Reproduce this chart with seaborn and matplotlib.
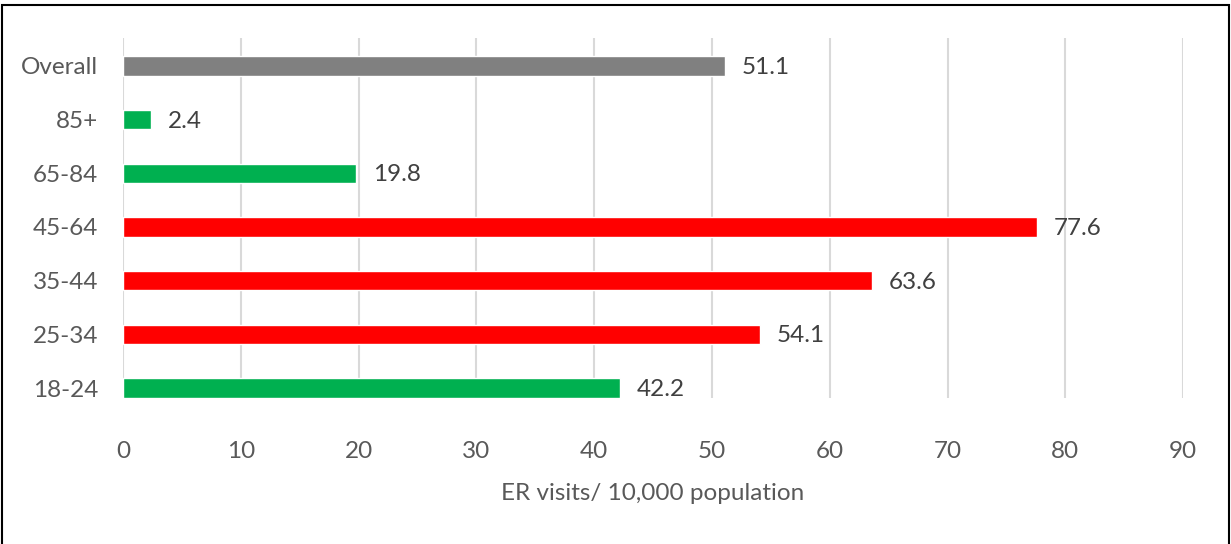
import pandas as pd
import matplotlib
matplotlib.use("Agg")
import matplotlib.pyplot as plt
import seaborn as sns

# chart data
groups = ["Overall", "85+", "65-84", "45-64", "35-44", "25-34", "18-24"]
visits = [51.1, 2.4, 19.8, 77.6, 63.6, 54.1, 42.2]
bar_colors = ["#808080", "#00B050", "#00B050", "#FF0000", "#FF0000", "#FF0000", "#00B050"]

df = pd.DataFrame({"group": groups, "visits": visits})

sns.set_theme(style="white")
plt.rcParams["font.family"] = ["Lato", "DejaVu Sans"]

fig = plt.figure(figsize=(12.31, 5.44), dpi=100)
ax = fig.add_axes([0.0999, 0.268, 0.8613, 0.662])

sns.barplot(data=df, x="visits", y="group", hue="group", palette=bar_colors,
            legend=False, width=0.36, ax=ax, saturation=1)

ax.set_xlim(0, 90)
ax.set_ylim(6.19, -0.52)
ax.set_xticks(range(0, 91, 10))
ax.xaxis.grid(True, color="#d9d9d9", linewidth=1.5)
ax.set_axisbelow(True)
for s in ax.spines.values():
    s.set_visible(False)
ax.tick_params(axis="both", length=0, labelsize=17.5, labelcolor="#595959")
ax.tick_params(axis="x", pad=31)
ax.tick_params(axis="y", pad=18)
ax.set_ylabel("")
ax.set_xlabel("ER visits/ 10,000 population", fontsize=17.5, color="#595959", labelpad=15)

# value labels
for i, v in enumerate(visits):
    ax.text(v + 1.4, i + 0.03, f"{v}", va="center", ha="left", fontsize=17.5, color="#404040")

# frame around the whole chart
fig.patches.append(plt.Rectangle((0.002, -0.05), 0.996, 1.04, transform=fig.transFigure,
                                 fill=False, edgecolor="black", linewidth=1.5))

fig.savefig("out.png", dpi=100)
